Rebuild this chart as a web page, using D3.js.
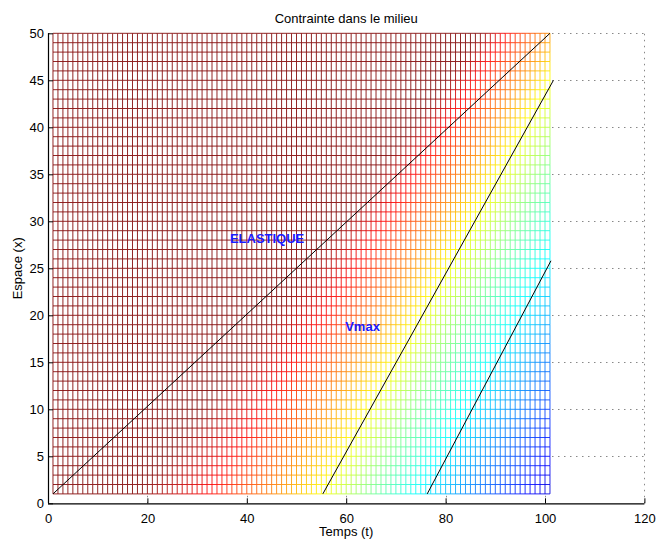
<!DOCTYPE html>
<html lang="en">
<head>
  <meta charset="UTF-8">
  <title>Contrainte dans le milieu</title>
  <script src='https://d3js.org/d3.v7.min.js'></script>
  <style>
    body { margin: 0; background: #fff; }
    text { font-family: "Liberation Sans", Arial, sans-serif; }
  </style>
</head>
<body>
<script>
  // mesh extent (time t, space x) and step
  const meshT = [1, 101];
  const meshX = [1, 50];
  const meshStep = 1;

  // colour stops of the stress field (jet value) read along the grid,
  // position given as u = t - x at the bottom row and at the top row
  const stopValue = [1, 0.875, 0.75, 0.625, 0.5, 0.375, 0.25, 0.125, 0];
  const stopUBottom = [17, 31, 44, 54, 63, 73, 84, 96, 108];
  const stopUTop = [37, 42, 50, 56, 65, 75, 86, 98, 110];

  // black characteristic lines [t0, x0, t1, x1]
  const lines = [
    [1, 1, 101, 50],
    [55.3, 1, 101.7, 45],
    [76.3, 1, 101.2, 25.8]
  ];

  const annotations = [
    {label: "ELASTIQUE", t: 36.6, x: 28.2},
    {label: "Vmax", t: 59.8, x: 18.8}
  ];

  const xTicks = [0, 20, 40, 60, 80, 100, 120];
  const yTicks = [0, 5, 10, 15, 20, 25, 30, 35, 40, 45, 50];

  const width = 657, height = 543;

  const x = d3.scaleLinear().domain([0, 120]).range([48, 644.4]);
  const y = d3.scaleLinear().domain([0, 50]).range([503.3, 33.3]);

  function jet(v) {
    const c = a => Math.max(0, Math.min(1, 1.5 - Math.abs(4 * v - a)));
    return d3.rgb(255 * c(3), 255 * c(2), 255 * c(1)).formatHex();
  }

  function colorAt(t, xs) {
    const f = (xs - meshX[0]) / (meshX[1] - meshX[0]);
    const stops = stopUBottom.map((b, i) => b + f * (stopUTop[i] - b));
    const s = d3.scaleLinear().domain(stops).range(stopValue).clamp(true);
    return jet(s(t - xs));
  }

  const svg = d3.select("body").append("svg")
    .attr("width", width)
    .attr("height", height);

  // dotted grid
  const grid = svg.append("g")
    .attr("stroke", "#888")
    .attr("stroke-width", 1)
    .attr("stroke-dasharray", "1.5,4.5");
  grid.selectAll(".gy")
    .data(yTicks.filter(d => d > 0))
    .join("line")
    .attr("x1", x(0)).attr("x2", x(120))
    .attr("y1", d => Math.round(y(d)) + 0.5).attr("y2", d => Math.round(y(d)) + 0.5);
  grid.selectAll(".gx")
    .data(xTicks.filter(d => d > 0))
    .join("line")
    .attr("x1", d => Math.round(x(d)) + 0.5).attr("x2", d => Math.round(x(d)) + 0.5)
    .attr("y1", y(0)).attr("y2", y(50));

  // hidden faces of the mesh are white
  svg.append("rect")
    .attr("x", x(meshT[0])).attr("y", y(meshX[1]))
    .attr("width", x(meshT[1]) - x(meshT[0]))
    .attr("height", y(meshX[0]) - y(meshX[1]))
    .attr("fill", "#fff");

  const tNodes = d3.range(meshT[0], meshT[1] + meshStep, meshStep);
  const xNodes = d3.range(meshX[0], meshX[1] + meshStep, meshStep);

  const segs = [];
  tNodes.forEach(t => {
    for (let j = 0; j < xNodes.length - 1; j++) {
      const a = xNodes[j], b = xNodes[j + 1];
      segs.push({t0: t, x0: a, t1: t, x1: b, c: colorAt(t, (a + b) / 2)});
    }
  });
  xNodes.forEach(xs => {
    for (let i = 0; i < tNodes.length - 1; i++) {
      const a = tNodes[i], b = tNodes[i + 1];
      segs.push({t0: a, x0: xs, t1: b, x1: xs, c: colorAt((a + b) / 2, xs)});
    }
  });

  svg.append("g")
    .attr("stroke-width", 1)
    .attr("stroke-opacity", 0.85)
    .selectAll("line")
    .data(segs)
    .join("line")
    .attr("x1", d => x(d.t0)).attr("y1", d => y(d.x0))
    .attr("x2", d => x(d.t1)).attr("y2", d => y(d.x1))
    .attr("stroke", d => d.c);

  svg.append("g")
    .selectAll("line")
    .data(lines)
    .join("line")
    .attr("x1", d => x(d[0])).attr("y1", d => y(d[1]))
    .attr("x2", d => x(d[2])).attr("y2", d => y(d[3]))
    .attr("stroke", "#000")
    .attr("stroke-width", 1);

  svg.append("g")
    .selectAll("text")
    .data(annotations)
    .join("text")
    .attr("x", d => x(d.t))
    .attr("y", d => y(d.x))
    .attr("dy", "0.35em")
    .attr("fill", "#1a1aff")
    .attr("font-weight", "bold")
    .attr("font-size", 13)
    .text(d => d.label);

  // axes
  const xAxis = d3.axisBottom(x)
    .tickValues(xTicks)
    .tickSize(-5)
    .tickPadding(10);
  const gx = svg.append("g")
    .attr("transform", "translate(0," + y(0) + ")")
    .call(xAxis);

  const yAxis = d3.axisLeft(y)
    .tickValues(yTicks)
    .tickSize(-5)
    .tickPadding(4);
  const gy = svg.append("g")
    .attr("transform", "translate(" + x(0) + ",0)")
    .call(yAxis);

  [gx, gy].forEach(g => {
    g.select(".domain").attr("stroke", "#000").attr("stroke-width", 1.2);
    g.selectAll(".tick line").attr("stroke", "#000");
    g.selectAll(".tick text")
      .attr("fill", "#000")
      .attr("font-size", 13)
      .attr("font-family", "'Liberation Sans', Arial, sans-serif");
  });
  gx.select(".domain").attr("d", "M" + x(0) + ",0.5H" + x(120));
  gy.select(".domain").attr("d", "M0.5," + y(0) + "V" + y(50));

  svg.append("text")
    .attr("x", (x(0) + x(120)) / 2)
    .attr("y", 23)
    .attr("text-anchor", "middle")
    .attr("font-size", 13)
    .text("Contrainte dans le milieu");

  svg.append("text")
    .attr("x", (x(0) + x(120)) / 2)
    .attr("y", 536)
    .attr("text-anchor", "middle")
    .attr("font-size", 13)
    .text("Temps (t)");

  svg.append("text")
    .attr("transform", "translate(22," + (y(0) + y(50)) / 2 + ") rotate(-90)")
    .attr("text-anchor", "middle")
    .attr("font-size", 13)
    .text("Espace (x)");
</script>
</body>
</html>
